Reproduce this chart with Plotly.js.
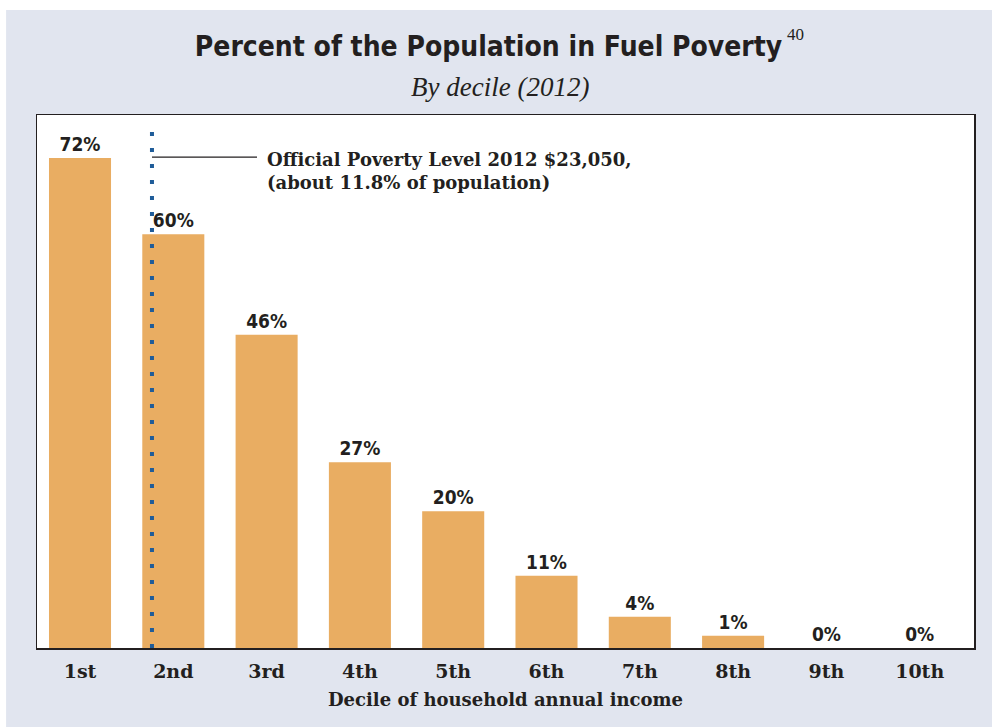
<!DOCTYPE html>
<html>
<head>
<meta charset="utf-8">
<script src="https://cdn.plot.ly/plotly-3.0.1.min.js"></script>
<style>html,body{margin:0;padding:0;background:#fff;}#chart{width:992px;height:727px;}</style>
</head>
<body>
<div id="chart"></div>
<script>
const categories = ["1st","2nd","3rd","4th","5th","6th","7th","8th","9th","10th"];
const values = [72, 60.8, 46, 27.3, 20.1, 10.6, 4.6, 1.8, 0, 0];
const labels = ["72%","60%","46%","27%","20%","11%","4%","1%","0%","0%"];

const sansCond = '"DejaVu Sans Condensed", "Liberation Sans Narrow", "Roboto", sans-serif';
const serif = '"DejaVu Serif", "Liberation Serif", serif';

const trace = {
  type: 'bar',
  x: categories,
  y: values,
  text: labels,
  textposition: 'outside',
  cliponaxis: false,
  textfont: {family: sansCond, size: 19, color: '#231f20', weight: 'bold'},
  marker: {color: '#e9ad62', line: {width: 0}},
  width: 0.665,
  hoverinfo: 'skip'
};

const layout = {
  width: 992, height: 727,
  margin: {l: 37, r: 18, t: 115, b: 79},
  paper_bgcolor: '#ffffff',
  plot_bgcolor: 'rgba(0,0,0,0)',
  showlegend: false,
  title: {
    text: '<b>Percent of the Population in Fuel Poverty</b>',
    font: {family: sansCond, size: 28, color: '#231f20'},
    x: 0.4925, xanchor: 'center', y: 0.937, yanchor: 'middle'
  },
  xaxis: {
    type: 'category',
    range: [-0.461, 9.582],
    showline: true, mirror: true, linecolor: '#231f20', linewidth: 1.5,
    ticks: '', showgrid: false, zeroline: false,
    ticklabelstandoff: 6,
    tickfont: {family: serif, size: 19, color: '#231f20', weight: 'bold'},
    title: {text: '<b>Decile of household annual income</b>', font: {family: serif, size: 18, color: '#231f20'}, standoff: 12}
  },
  yaxis: {
    range: [0, 78.3],
    showline: true, mirror: true, linecolor: '#231f20', linewidth: 1.5,
    showticklabels: false, ticks: '', showgrid: false, zeroline: false
  },
  shapes: [
    {type: 'rect', xref: 'paper', yref: 'paper', x0: -0.033, x1: 1.02, y0: -0.148, y1: 1.197,
     fillcolor: '#e1e5ef', line: {width: 0}, layer: 'below'},
    {type: 'rect', xref: 'paper', yref: 'paper', x0: 0, x1: 1, y0: 0, y1: 1,
     fillcolor: '#ffffff', line: {width: 0}, layer: 'below'},
    {type: 'line', xref: 'paper', yref: 'paper', x0: 0.1227, x1: 0.1227, y0: 0, y1: 0.976,
     line: {color: '#1f5c99', width: 4, dash: '4px,12px'}},
    {type: 'line', xref: 'paper', yref: 'paper', x0: 0.1227, x1: 0.2348, y0: 0.921, y1: 0.921,
     line: {color: '#231f20', width: 1.2}}
  ],
  annotations: [
    {xref: 'paper', yref: 'paper', x: 0.494, y: 1.0525, xanchor: 'center', yanchor: 'middle',
     text: '<i>By decile (2012)</i>', showarrow: false,
     font: {family: '"Liberation Serif", serif', size: 27, color: '#231f20'}},
    {xref: 'paper', yref: 'paper', x: (795 - 37) / 937, y: (648 - 35) / 533, xanchor: 'center', yanchor: 'middle',
     text: '40', showarrow: false, font: {family: '"Liberation Serif", serif', size: 17, color: '#231f20'}},
    {xref: 'paper', yref: 'paper', x: 0.2433, y: 0.895, xanchor: 'left', yanchor: 'middle', align: 'left',
     text: '<b>Official Poverty Level 2012 $23,050,<br>(about 11.8% of population)</b>', showarrow: false,
     font: {family: serif, size: 18, color: '#231f20'}}
  ]
};

Plotly.newPlot('chart', [trace], layout, {displayModeBar: false, staticPlot: true});
</script>
</body>
</html>
